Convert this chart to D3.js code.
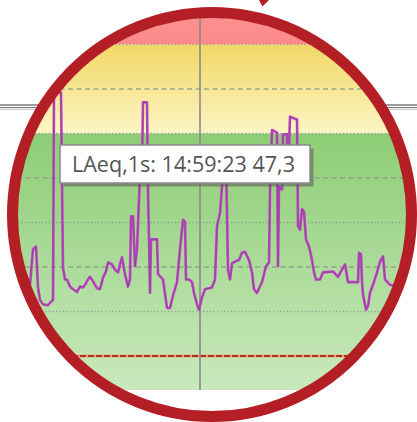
<!DOCTYPE html>
<html>
<head>
<meta charset="utf-8">
<script src="https://cdn.jsdelivr.net/npm/d3@7"></script>
<style>
  html, body { margin: 0; padding: 0; background: #ffffff; }
  svg { display: block; }
</style>
</head>
<body>
<svg id="chart" width="417" height="422"></svg>
<script>
// ---- data ----
const startTime = "14:56:29";
const elapsedSeconds = [0,4,7,10,12,14,17,22,25,27,28,31,34,35,37,39,41,44,47,51,54,57,59,62,64,67,71,74,77,80,82,86,89,92,94,96,99,102,104,105,107,109,111,114,116,117,121,122,123,124,125,131,132,137,141,144,147,151,154,157,159,160,163,166,168,171,173,176,179,186,189,191,194,196,198,200,201,202,204,206,209,213,216,219,223,226,228,231,236,240,243,244,246,251,252,253,256,257,261,262,264,270,271,272,274,276,278,280,283,286,288,290,294,297,307,312,316,319,322,326,329,332,333,335,336,337,340,342,344,347,351,354,357,359,364,370,377,379,382,386,390];
const laeq = [42.5,43.0,47.0,47.3,42.7,41.3,40.8,40.7,41.1,41.3,64.6,64.9,64.6,64.6,44.9,43.6,43.6,42.8,42.5,42.2,42.8,42.7,43.0,43.6,43.9,43.4,42.6,42.5,43.8,44.5,45.5,45.3,44.7,44.4,45.3,46.1,44.2,42.8,43.6,50.7,50.7,45.1,47.0,55.4,56.0,63.5,63.5,53.4,48.1,42.1,48.1,48.1,44.2,43.6,40.4,40.4,41.8,43.3,47.0,50.3,50.1,43.6,43.6,43.3,42.1,40.8,40.2,41.6,42.5,42.7,43.6,49.6,51.1,54.0,56.5,56.5,51.1,44.7,43.6,45.4,45.6,45.8,46.6,46.7,45.8,44.4,42.5,42.1,43.3,45.1,45.5,53.7,60.4,60.1,45.1,54.0,53.7,59.9,59.9,54.5,61.9,61.6,61.6,49.6,49.2,51.5,51.2,48.1,47.3,45.8,44.4,43.6,43.6,44.4,44.5,43.9,44.7,45.3,43.3,43.3,43.3,43.3,46.6,46.4,43.3,41.9,40.2,40.6,42.1,43.0,44.4,45.6,46.2,43.6,43.0,42.8,43.3,46.4,47.0,44.7,44.2];
const cursorTime = "14:59:23";
const tooltipLabel = "LAeq,1s: 14:59:23 47,3";
// zone bands (dB)
const bandNames = ["red", "yellow", "green"];
const bandFrom  = [70, 60, 20];
const bandTo    = [90, 70, 60];
// gridline levels (dB) and their kind
const gridLevels = [70, 65, 60, 55, 50, 45, 40];
const gridKinds  = ["dot", "dash", "dot", "dash", "dot", "dash", "dot"];
const limitLevel = 35;

// ---- layout ----
const W = 417, H = 422;
const cx = 212, cy = 214.5, rx = 199.5, ry = 202, ringW = 11;
const plotTop = 0, plotBottom = 390;

const parse = d3.timeParse("%H:%M:%S");
const t0 = parse(startTime);
const data = elapsedSeconds.map((s, i) => ({ t: new Date(t0.getTime() + s * 1000), v: laeq[i] }));

const x = d3.scaleTime()
  .domain([t0, new Date(t0.getTime() + 390 * 1000)])
  .range([26, 416]);
const y = d3.scaleLinear().domain([35, 70]).range([356, 44.5]);

const svg = d3.select("#chart");
const defs = svg.append("defs");

// clip to inner ellipse
defs.append("clipPath").attr("id", "lens")
  .append("ellipse").attr("cx", cx).attr("cy", cy).attr("rx", rx - ringW / 2 + 0.5).attr("ry", ry - ringW / 2 + 0.5);

// gradients for bands
const grads = {
  red:    [["0%", "#ff9494"], ["100%", "#fd8a8a"]],
  yellow: [["0%", "#f1d865"], ["100%", "#fcf5c4"]],
  green:  [["0%", "#8dcd75"], ["100%", "#c9e9bd"]]
};
Object.entries(grads).forEach(([k, stops]) => {
  const g = defs.append("linearGradient").attr("id", "g-" + k)
    .attr("x1", 0).attr("y1", 0).attr("x2", 0).attr("y2", 1);
  stops.forEach(s => g.append("stop").attr("offset", s[0]).attr("stop-color", s[1]));
});

// window frame lines outside the lens
const frame = svg.append("g");
[[105, "#3c3c3c"], [107.5, "#7a7a7a"], [109.2, "#b8b8b8"]].forEach(([yy, c]) => {
  frame.append("line").attr("x1", 0).attr("x2", W).attr("y1", yy).attr("y2", yy)
    .attr("stroke", c).attr("stroke-width", 1.1);
});

// lens content
const lens = svg.append("g").attr("clip-path", "url(#lens)");
lens.append("rect").attr("x", 0).attr("y", 0).attr("width", W).attr("height", H).attr("fill", "#ffffff");

bandNames.forEach((n, i) => {
  const top = Math.max(plotTop, y(bandTo[i]));
  const bot = Math.min(plotBottom, y(bandFrom[i]));
  lens.append("rect")
    .attr("x", 0).attr("width", W)
    .attr("y", top).attr("height", bot - top)
    .attr("fill", "url(#g-" + n + ")");
});

// gridlines
gridLevels.forEach((lv, i) => {
  lens.append("line")
    .attr("x1", 0).attr("x2", W)
    .attr("y1", y(lv)).attr("y2", y(lv))
    .attr("stroke", "#8f9a8f")
    .attr("stroke-opacity", 0.85)
    .attr("stroke-width", gridKinds[i] === "dot" ? 1.3 : 1.5)
    .attr("stroke-dasharray", gridKinds[i] === "dot" ? "1.3,2.2" : "5,3.5");
});

// limit line (red dashed)
lens.append("line")
  .attr("x1", 0).attr("x2", W)
  .attr("y1", y(limitLevel)).attr("y2", y(limitLevel))
  .attr("stroke", "#f0a070").attr("stroke-width", 3);
lens.append("line")
  .attr("x1", 0).attr("x2", W)
  .attr("y1", y(limitLevel)).attr("y2", y(limitLevel))
  .attr("stroke", "#a8302a").attr("stroke-width", 2)
  .attr("stroke-dasharray", "6,2");

// cursor line
const cx0 = x(parse(cursorTime));
lens.append("line")
  .attr("x1", cx0).attr("x2", cx0).attr("y1", plotTop).attr("y2", plotBottom)
  .attr("stroke", "#8a8a8a").attr("stroke-width", 1.6);

// data line
const line = d3.line().x(d => x(d.t)).y(d => y(d.v));
lens.append("path").datum(data).attr("d", line)
  .attr("fill", "none").attr("stroke", "#c63ccf").attr("stroke-width", 2.6)
  .attr("stroke-linejoin", "round");
lens.append("path").datum(data).attr("d", line)
  .attr("fill", "none").attr("stroke", "#8c4f90").attr("stroke-width", 1)
  .attr("stroke-linejoin", "round");

// white area below plot
lens.append("rect").attr("x", 0).attr("y", plotBottom).attr("width", W).attr("height", H - plotBottom).attr("fill", "#ffffff");

// tooltip
const tip = svg.append("g");
tip.append("rect").attr("x", 63.5).attr("y", 148.5).attr("width", 250).attr("height", 38)
  .attr("fill", "#5a5a5a").attr("fill-opacity", 0.55);
tip.append("rect").attr("x", 60).attr("y", 145).attr("width", 250).attr("height", 38)
  .attr("fill", "#ffffff").attr("stroke", "#8a8a8a").attr("stroke-width", 1.5);
const txt = tip.append("text").attr("x", 72).attr("y", 172)
  .attr("font-family", "'Open Sans', 'Noto Sans', sans-serif")
  .attr("font-size", 22).attr("fill", "#555555")
  .text(tooltipLabel);
const tl = txt.node().getComputedTextLength();
txt.attr("font-size", 22 * 223 / tl);

// ring
svg.append("ellipse").attr("cx", cx).attr("cy", cy).attr("rx", rx).attr("ry", ry)
  .attr("fill", "none").attr("stroke", "#b41f26").attr("stroke-width", ringW);

// small pointer tip at top
svg.append("path").attr("d", "M259,0 L269,0 L262.5,6.5 Z").attr("fill", "#b41f26");
</script>
</body>
</html>
